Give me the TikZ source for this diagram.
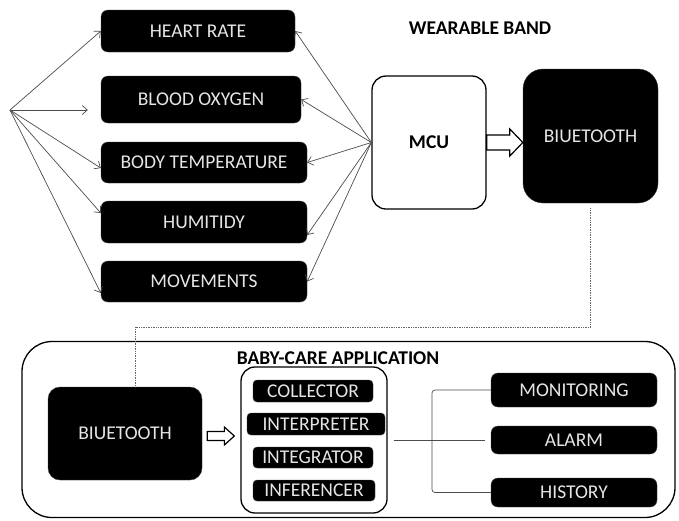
\documentclass[tikz,border=0pt]{standalone}
\usepackage{fontspec}
\setmainfont{Carlito}
\usetikzlibrary{calc,positioning,arrows.meta}
\newcommand{\boxfont}{\fontsize{19.5}{21}\selectfont}
\newcommand{\hollowarrow}[5]{%
  \draw[line width=1.2pt, fill=white] ($(#1)+(0,-#3)$) -- ($(#2)+(-#5,-#3)$) -- ($(#2)+(-#5,-#4)$) -- (#2)
    -- ($(#2)+(-#5,#4)$) -- ($(#2)+(-#5,#3)$) -- ($(#1)+(0,#3)$) -- cycle;}
\tikzset{
  blackbox/.style={fill=black, draw=black!75, text=white!90!black, rounded corners=7pt, inner sep=0pt, font=\boxfont},
  smallbox/.style={blackbox, rounded corners=4pt},
  whitebox/.style={draw, line width=1.3pt, rounded corners=14pt, inner sep=0pt, font=\boxfont\bfseries},
  title/.style={font=\boxfont\bfseries},
  thinarrow/.style={-{Straight Barb[length=5pt,width=9pt]}, draw=black!70, line width=0.7pt},
  thinline/.style={draw=black!70, line width=0.7pt}
}
\begin{document}
\begin{tikzpicture}[x=1pt,y=-1pt]
\useasboundingbox (0,0) rectangle (679,520);
\node[blackbox, minimum width=194pt, minimum height=42pt] (heart) at (198,31) {HEART RATE};
\node[blackbox, minimum width=200pt, minimum height=47pt] (oxy) at (201,99.5) {BLOOD OXYGEN};
\node[blackbox, minimum width=206pt, minimum height=41pt] (temp) at (204,162.5) {BODY TEMPERATURE};
\node[blackbox, minimum width=206pt, minimum height=42pt] (humid) at (204,222) {HUMITIDY};
\node[blackbox, minimum width=206pt, minimum height=41pt] (move) at (204,281.5) {MOVEMENTS};
\node[whitebox, minimum width=114pt, minimum height=133pt] (mcu) at (429,142.5) {MCU};
\node[blackbox, rounded corners=20pt, minimum width=135pt, minimum height=134pt] (bt1) at (590.5,136) {BIUETOOTH};
\node[title] (band) at (480,28) {WEARABLE BAND};

\coordinate (fan) at (10,110);
\draw[thinarrow] (fan) -- (heart.west);
\draw[thinarrow] (fan) -- ([xshift=-13pt,yshift=-10.5pt]oxy.west);
\draw[thinarrow] (fan) -- ([yshift=-5.5pt]temp.west);
\draw[thinarrow] (fan) -- ([yshift=9pt]humid.west);
\draw[thinarrow] (fan) -- ([yshift=-11.5pt]move.west);
\draw[thinarrow] (mcu.west) -- (heart.east);
\draw[thinarrow] (mcu.west) -- (oxy.east);
\draw[thinarrow] (mcu.west) -- (temp.east);
\draw[thinarrow] (mcu.west) -- ([yshift=-13pt]humid.east);
\draw[thinarrow] (mcu.west) -- (move.east);

\coordinate (bt1in) at (bt1.west |- mcu.east);
\hollowarrow{mcu.east}{bt1in}{7.5}{13.5}{13}

\node[draw, line width=1.3pt, rounded corners=30pt, minimum width=653pt, minimum height=176pt] (app) at (348.5,429.5) {};
\node[title] (applabel) at (338,358) {BABY-CARE APPLICATION};
\node[blackbox, rounded corners=12pt, minimum width=154pt, minimum height=93pt] (bt2) at (125,433.5) {BIUETOOTH};
\node[whitebox, minimum width=146pt, minimum height=146pt] (core) at (314,440) {};
\node[smallbox, minimum width=120pt, minimum height=22pt] (coll) at (313,391) {COLLECTOR};
\node[smallbox, minimum width=138pt, minimum height=22pt] (interp) at (316,424) {INTERPRETER};
\node[smallbox, minimum width=120pt, minimum height=21pt] (integ) at (313,457.5) {INTEGRATOR};
\node[smallbox, minimum width=122pt, minimum height=21pt] (infer) at (314,490.5) {INFERENCER};
\node[blackbox, minimum width=166pt, minimum height=34pt] (mon) at (574,390) {MONITORING};
\node[blackbox, minimum width=166pt, minimum height=28pt] (alarm) at (574,440) {ALARM};
\node[blackbox, minimum width=166pt, minimum height=29pt] (hist) at (574,492.5) {HISTORY};

\coordinate (a1) at ([xshift=5pt,yshift=-2.5pt]bt2.east);
\coordinate (a2) at (core.west |- a1);
\hollowarrow{a1}{[xshift=-6pt]a2}{4.5}{9}{10}

\coordinate (brace) at (432,440);
\draw[thinline] ([xshift=6pt]core.east) -- ([xshift=-6pt]alarm.west);
\draw[thinline, rounded corners=3pt] (mon.west) -| (brace) |- (hist.west);

\coordinate (bt2in) at ([xshift=10pt]bt2.north);
\coordinate (dotturn) at (135,327);
\draw[densely dotted, black!60, line width=0.7pt] ([yshift=-5pt]bt1.south) |- (dotturn) -- (bt2in);
\end{tikzpicture}
\end{document}
